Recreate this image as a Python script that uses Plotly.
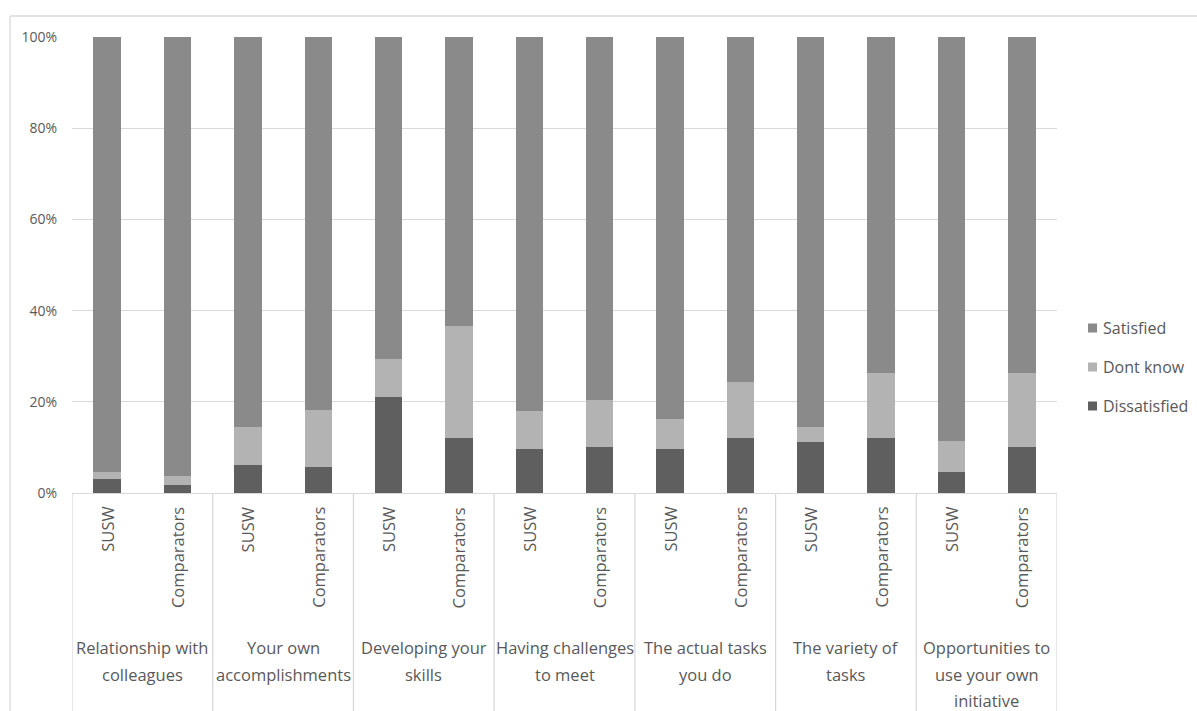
import plotly.graph_objects as go

# Survey themes (grouped x-axis) and the two respondent groups per theme
themes = [
    "Relationship with<br>colleagues",
    "Your own<br>accomplishments",
    "Developing your<br>skills",
    "Having challenges<br>to meet",
    "The actual tasks<br>you do",
    "The variety of<br>tasks",
    "Opportunities to<br>use your own<br>initiative",
]
groups = ["SUSW", "Comparators"]

# Percent of respondents per bar (SUSW, Comparators alternating per theme)
dissatisfied = [3.0, 1.8, 6.2, 5.8, 21.1, 12.1, 9.7, 10.0, 9.7, 12.1, 11.2, 12.1, 4.6, 10.0]
dont_know = [1.6, 2.0, 8.2, 12.3, 8.3, 24.5, 8.2, 10.3, 6.6, 12.2, 3.2, 14.3, 6.7, 16.4]
satisfied = [round(100 - d - k, 1) for d, k in zip(dissatisfied, dont_know)]

y_ticks = [0, 20, 40, 60, 80, 100]

FONT = "Open Sans"
TEXT = "#595959"
GRID = "#d9d9d9"

W, H = 1197, 711
ML, MR, MT, MB = 72, 10, 37, 218
PW = W - ML - MR          # paper width in px
PH = H - MT - MB          # paper height in px
PLOT_RIGHT = 1057         # right edge of the bar area in px


def px_x(px):
    return (px - ML) / PW


def px_y(py):
    return (H - MB - py) / PH


n = len(themes) * len(groups)
xs = list(range(n))
sub_labels = [groups[i % 2] for i in range(n)]

fig = go.Figure()
series = [
    ("Dissatisfied", dissatisfied, "#5f5f5f"),
    ("Dont know", dont_know, "#b3b3b3"),
    ("Satisfied", satisfied, "#8a8a8a"),
]
for name, vals, color in series:
    fig.add_trace(go.Bar(
        x=xs, y=vals, name=name, width=0.39, showlegend=False,
        marker=dict(color=color, line=dict(width=0)),
        hovertemplate="%{y:.1f}%<extra>" + name + "</extra>",
    ))

shapes = []
annotations = []

# group dividers below the axis
for b in range(len(themes) + 1):
    shapes.append(dict(type="line", xref="x", yref="paper",
                       x0=2 * b - 0.5, x1=2 * b - 0.5, y0=0, y1=px_y(H + 2),
                       line=dict(color=GRID, width=1.3)))
# chart frame
shapes.append(dict(type="line", xref="paper", yref="paper",
                   x0=px_x(10), x1=px_x(W + 2), y0=px_y(16), y1=px_y(16),
                   line=dict(color=GRID, width=1.3)))
shapes.append(dict(type="line", xref="paper", yref="paper",
                   x0=px_x(10), x1=px_x(10), y0=px_y(16), y1=px_y(H + 2),
                   line=dict(color=GRID, width=1.3)))

# legend: Satisfied on top, Dissatisfied at the bottom
legend_rows = [328, 367, 406]
for (name, _, color), row in zip(reversed(series), legend_rows):
    shapes.append(dict(type="rect", xref="paper", yref="paper",
                       x0=px_x(1088), x1=px_x(1097),
                       y0=px_y(row + 4.5), y1=px_y(row - 4.5),
                       fillcolor=color, line=dict(width=0)))
    annotations.append(dict(
        x=px_x(1101), y=px_y(row), xref="paper", yref="paper", text=name,
        showarrow=False, xanchor="left", yanchor="middle",
        font=dict(family=FONT, size=16, color=TEXT),
    ))

for i, lab in enumerate(sub_labels):
    annotations.append(dict(
        x=i, y=px_y(505), xref="x", yref="paper", text=lab, showarrow=False,
        textangle=-90, xanchor="center", yanchor="top",
        font=dict(family=FONT, size=16.5, color=TEXT),
    ))
line_centres = [647, 674, 700]
for t, theme in enumerate(themes):
    for k, line in enumerate(theme.split("<br>")):
        annotations.append(dict(
            x=2 * t + 0.5, y=px_y(line_centres[k]), xref="x", yref="paper",
            text=line, showarrow=False, xanchor="center", yanchor="middle",
            font=dict(family=FONT, size=16.5, color=TEXT),
        ))

fig.update_layout(
    width=W, height=H,
    margin=dict(l=ML, r=MR, t=MT, b=MB),
    barmode="stack",
    bargap=0.61,
    plot_bgcolor="white", paper_bgcolor="white",
    font=dict(family=FONT, color=TEXT),
    xaxis=dict(domain=[0, px_x(PLOT_RIGHT)], range=[-0.5, n - 0.5],
               showticklabels=False, ticks="",
               showgrid=False, zeroline=False, showline=False, fixedrange=True),
    yaxis=dict(range=[0, 100], tickvals=y_ticks,
               ticktext=[f"{v}%" for v in y_ticks],
               tickfont=dict(family=FONT, size=14, color=TEXT),
               ticklabelstandoff=14,
               showgrid=True, gridcolor=GRID, gridwidth=1.3,
               zeroline=True, zerolinecolor=GRID, zerolinewidth=1.3,
               ticks="", ticklen=0, showline=False),
    shapes=shapes,
    annotations=annotations,
    showlegend=False,
)

fig.write_html("out.html")
